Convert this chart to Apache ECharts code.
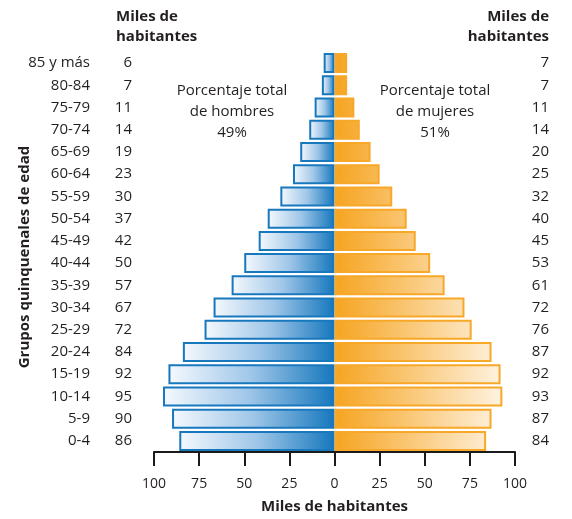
<!DOCTYPE html>
<html>
<head>
<meta charset="utf-8">
<script src="https://cdn.jsdelivr.net/npm/echarts@6/dist/echarts.min.js"></script>
<style>html,body{margin:0;padding:0;background:#fff}#c{width:572px;height:519px}</style>
</head>
<body>
<div id="c"></div>
<script>
const ageGroups = ['85 y más','80-84','75-79','70-74','65-69','60-64','55-59','50-54','45-49','40-44','35-39','30-34','25-29','20-24','15-19','10-14','5-9','0-4'];
const menValues = [6,7,11,14,19,23,30,37,42,50,57,67,72,84,92,95,90,86];
const womenValues = [7,7,11,14,20,25,32,40,45,53,61,72,76,87,92,93,87,84];
const xTicks = [-100,-75,-50,-25,0,25,50,75,100];
const menShare = '49%';
const womenShare = '51%';

const FONT = '"Open Sans", "Noto Sans", sans-serif';
const TXT = '#231f20';
const chart = echarts.init(document.getElementById('c'), null, {renderer: 'canvas'});

function lerp(a, b, t) { return Math.round(a + (b - a) * t); }
function femaleEnd(v) {
  const t = v / 100;
  return 'rgb(' + lerp(246, 255, t) + ',' + lerp(164, 249, t) + ',' + lerp(32, 240, t) + ')';
}

const menData = menValues.map(v => ({
  value: -v,
  itemStyle: {
    color: new echarts.graphic.LinearGradient(0, 0, 1, 0, [
      {offset: 0, color: '#f5f9fd'}, {offset: 0.5, color: '#9fc6e8'}, {offset: 1, color: '#1577bd'}
    ])
  }
}));
const womenData = womenValues.map(v => ({
  value: v,
  itemStyle: {
    color: new echarts.graphic.LinearGradient(0, 0, 1, 0, [
      {offset: 0, color: '#f6a420'}, {offset: 1, color: femaleEnd(v)}
    ])
  }
}));

chart.setOption({
  animation: false,
  textStyle: {fontFamily: FONT},
  grid: {left: 154, right: 57, top: 52, bottom: 67},
  xAxis: {
    type: 'value', min: xTicks[0], max: xTicks[xTicks.length - 1], interval: 25,
    splitLine: {show: false},
    axisLine: {show: true, lineStyle: {color: '#1a1a1a', width: 2}},
    axisTick: {show: true, length: 14, lineStyle: {color: '#1a1a1a', width: 2}},
    axisLabel: {formatter: v => String(Math.abs(v)), color: TXT, fontSize: 14, fontFamily: FONT, margin: 25},
    name: 'Miles de habitantes', nameLocation: 'middle', nameGap: 47,
    nameTextStyle: {fontWeight: 'bold', fontSize: 15, color: TXT, fontFamily: FONT}
  },
  yAxis: [{
    type: 'category', data: ageGroups, inverse: true,
    axisLine: {show: false}, axisTick: {show: false},
    axisLabel: {
      margin: 22,
      formatter: (val, i) => '{a|' + val + '}{b|' + menValues[i] + '}',
      rich: {
        a: {width: 70, align: 'right', fontSize: 15, color: TXT, fontFamily: FONT},
        b: {width: 42, align: 'right', fontSize: 15, color: TXT, fontFamily: FONT}
      }
    }
  }, {
    type: 'category', data: ageGroups, inverse: true, position: 'right',
    axisLine: {show: false}, axisTick: {show: false},
    axisLabel: {
      margin: 34, align: 'right',
      formatter: (val, i) => String(womenValues[i]),
      fontSize: 15, color: TXT, fontFamily: FONT
    }
  }],
  series: [{
    type: 'bar', name: 'Hombres', data: menData, yAxisIndex: 0,
    barCategoryGap: '10%', barGap: '-100%',
    itemStyle: {borderColor: '#1878be', borderWidth: 2}
  }, {
    type: 'bar', name: 'Mujeres', data: womenData, yAxisIndex: 0,
    barCategoryGap: '10%', barGap: '-100%',
    itemStyle: {borderColor: '#f7a829', borderWidth: 2}
  }],
  graphic: [
    {type: 'text', left: 116, top: 7, style: {text: 'Miles de\nhabitantes', font: 'bold 15px ' + FONT, fill: TXT, lineHeight: 20}},
    {type: 'text', right: 23, top: 7, style: {text: 'Miles de\nhabitantes', font: 'bold 15px ' + FONT, fill: TXT, lineHeight: 20, textAlign: 'right'}},
    {type: 'text', x: 232, y: 80, style: {text: 'Porcentaje total\nde hombres\n' + menShare, font: '15px ' + FONT, fill: TXT, lineHeight: 21, textAlign: 'center'}},
    {type: 'text', x: 435, y: 80, style: {text: 'Porcentaje total\nde mujeres\n' + womenShare, font: '15px ' + FONT, fill: TXT, lineHeight: 21, textAlign: 'center'}},
    {type: 'text', x: 25, y: 257, rotation: Math.PI / 2, style: {text: 'Grupos quinquenales de edad', font: 'bold 15px ' + FONT, fill: TXT, textAlign: 'center', textVerticalAlign: 'middle'}}
  ]
});
</script>
</body>
</html>
